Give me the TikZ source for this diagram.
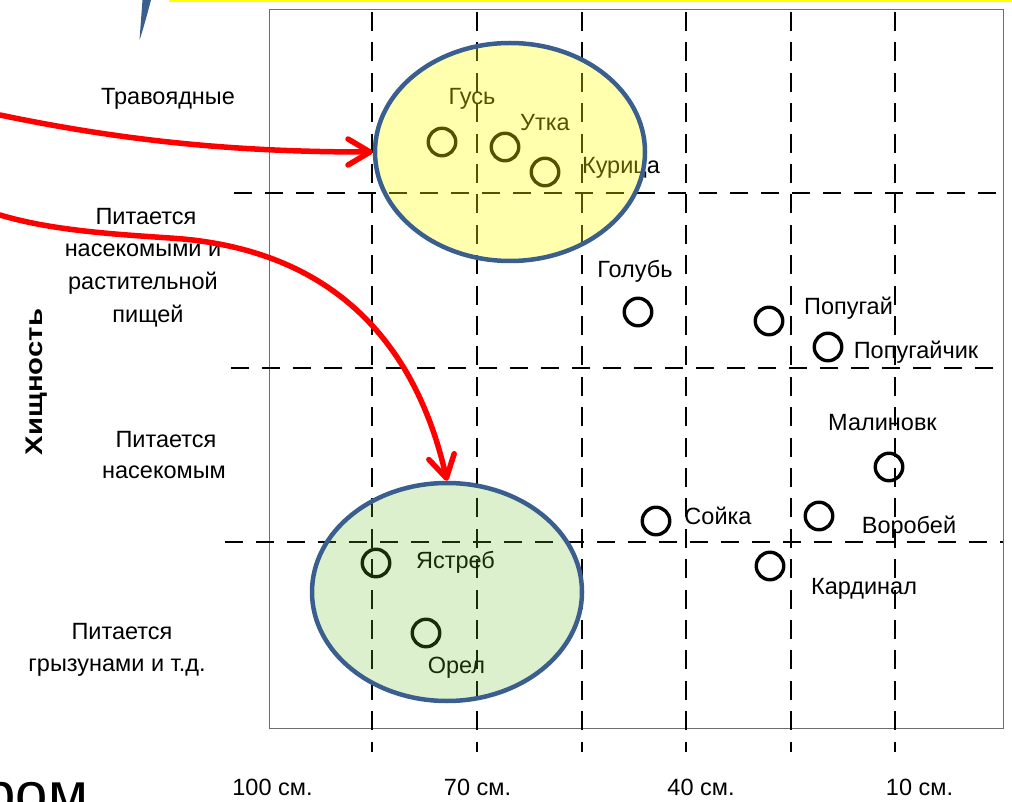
\documentclass[tikz,border=0pt]{standalone}
\usepackage{fontspec}
\setmainfont{Liberation Sans}
\usetikzlibrary{arrows.meta,shapes.geometric}
\definecolor{rimblue}{RGB}{58,95,142}
\definecolor{hazeyellow}{RGB}{255,255,0}
\definecolor{hazegreen}{RGB}{110,190,40}
\definecolor{framegray}{RGB}{110,110,110}
\begin{document}
\begin{tikzpicture}[x=1pt,y=-1pt,
  vgrid/.style={line width=2pt, dash pattern=on 19pt off 11.4pt},
  hgrid/.style={line width=2pt, dash pattern=on 18pt off 13pt},
  bird/.style={circle, draw, line width=3.4pt, minimum size=27.5pt, inner sep=0pt},
  lbl/.style={anchor=base, inner sep=0pt, font=\fontsize{23.5}{28}\selectfont},
  group/.style={ellipse, draw=rimblue, line width=4.5pt, minimum width=270pt, minimum height=218pt, inner sep=0pt},
  link/.style={draw=red, line width=5.5pt, line cap=round, -{Straight Barb[length=22pt,width=26pt,round]}},
]
\useasboundingbox (0,0) rectangle (1012,802);

% decorations at the top edge
\fill[hazeyellow] (169,0) rectangle (1012,2.5);
\fill[rimblue] (142.5,0) -- (151,0) .. controls (147,15) and (143,30) .. (139.5,40) -- cycle;

% chart frame
\draw[framegray, line width=1pt] (269,10) rectangle (1003,728);

% grid
\foreach \gx in {372,477,582,686,791,895}
  \draw[vgrid] (\gx,12) -- (\gx,752);
\draw[hgrid] (234,193) -- (1003,193);
\draw[hgrid] (231,368) -- (1003,368);
\draw[hgrid] (225,542) -- (1003,542);

% row labels
\node[lbl] (r1) at (168,105) {Травоядные};
\node[lbl] (r2a) at (146,225) {Питается};
\node[lbl] (r2b) at (143,257) {насекомыми и};
\node[lbl] (r2c) at (143,290) {растительной};
\node[lbl] (r2d) at (148,323) {пищей};
\node[lbl] (r3a) at (166,447) {Питается};
\node[lbl] (r3b) at (164,478) {насекомым};
\node[lbl] (r4a) at (122,639) {Питается};
\node[lbl] (r4b) at (117,671) {грызунами и т.д.};

% axis titles
\node[rotate=90, inner sep=0pt, font=\bfseries\fontsize{24}{28}\selectfont] (axisY) at (37,382) {\scalebox{1.22}[1]{Хищность}};
\node[lbl] (x100) at (272.5,795) {100 см.};
\node[lbl] (x70) at (477.5,795) {70 см.};
\node[lbl] (x40) at (701,795) {40 см.};
\node[lbl] (x10) at (919.5,795) {10 см.};
\node[anchor=base west, inner sep=0pt, font=\fontsize{58}{60}\selectfont] (cut) at (-16.5,813) {ром};

% birds
\node[bird] (cGus) at (442,142) {};
\node[bird] (cUtka) at (505,147) {};
\node[bird] (cKur) at (545,172) {};
\node[bird] (cGol) at (638,312) {};
\node[bird] (cPop) at (769,321) {};
\node[bird] (cPopch) at (828,347) {};
\node[bird] (cMal) at (889,467) {};
\node[bird] (cSoi) at (656,521) {};
\node[bird] (cVor) at (819,516) {};
\node[bird] (cKar) at (770,566) {};
\node[bird] (cYas) at (376,563) {};
\node[bird] (cOrel) at (426,633) {};

\node[lbl] (tGus) at (472,105) {Гусь};
\node[lbl] (tUtka) at (545,131) {Утка};
\node[lbl] (tKur) at (621,174) {Курица};
\node[lbl] (tGol) at (635,278) {Голубь};
\node[lbl] (tPop) at (848.5,315) {Попугай};
\node[lbl] (tPopch) at (916,358) {Попугайчик};
\node[lbl] (tMal) at (882.5,430) {Малиновк};
\node[lbl] (tSoi) at (718,524) {Сойка};
\node[lbl] (tVor) at (909,533) {Воробей};
\node[lbl] (tKar) at (864,594) {Кардинал};
\node[lbl] (tYas) at (455.5,568) {Ястреб};
\node[lbl] (tOrel) at (456.5,673) {Орел};

% highlighted groups
\node[group, fill=hazeyellow, fill opacity=0.32, draw opacity=1] (herb) at (510,152) {};
\node[group, fill=hazegreen, fill opacity=0.23, draw opacity=1] (pred) at (447,592) {};

% pointers
\coordinate (s1) at (0,115);
\coordinate (s2) at (0,215);
\draw[link] (s1) .. controls (120,140) and (230,152) .. (herb.west);
\draw[link] (s2) .. controls (50,230) and (110,234) .. (170,238)
  .. controls (330,248) and (415,340) .. (pred.north);
\end{tikzpicture}
\end{document}
